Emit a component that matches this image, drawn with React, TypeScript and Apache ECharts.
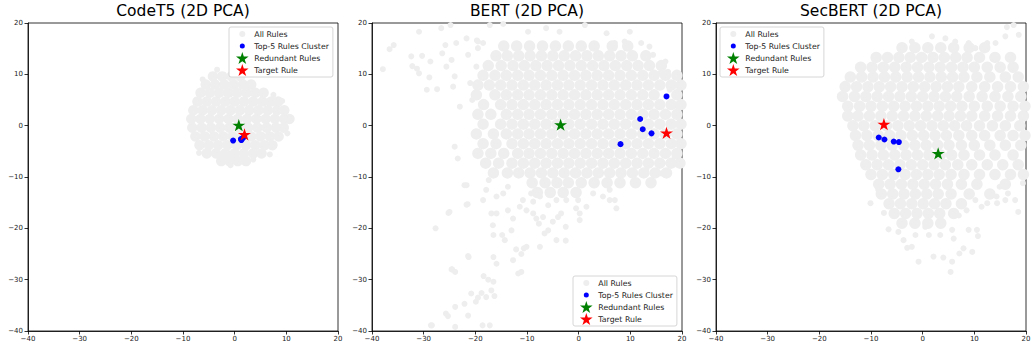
import React, { useEffect, useRef } from "react";
import * as echarts from "echarts";

// ---------- data ----------
const panelTitles = ["CodeT5 (2D PCA)", "BERT (2D PCA)", "SecBERT (2D PCA)"];
const legendNames = ["All Rules", "Top-5 Rules Cluster", "Redundant Rules", "Target Rule"];
const axisTicks = [-40, -30, -20, -10, 0, 10, 20];

// dense part of "All Rules" cloud, as rows: [y, xs]
const codet5Core: [number, number[]][] = [
  [9.6, [-4.2, -2.4, -0.6, 1.1]],
  [8.0, [-5.6, -3.8, -2.0, -0.2, 1.6, 3.2]],
  [6.4, [-6.6, -4.8, -3.0, -1.2, 0.5, 2.3, 4.0, 5.6]],
  [4.7, [-7.2, -5.4, -3.6, -1.8, 0.0, 1.8, 3.6, 5.4, 7.1, 8.4]],
  [3.0, [-8.0, -6.2, -4.4, -2.6, -0.8, 1.0, 2.8, 4.6, 6.4, 8.2, 9.6]],
  [1.3, [-8.4, -6.6, -4.8, -3.0, -1.2, 0.6, 2.4, 4.2, 6.0, 7.8, 9.6, 10.6]],
  [-0.4, [-8.2, -6.4, -4.6, -2.8, -1.0, 0.8, 2.6, 4.4, 6.2, 8.0, 9.5]],
  [-2.1, [-7.6, -5.8, -4.0, -2.2, -0.4, 1.4, 3.2, 5.0, 6.8, 8.5]],
  [-3.8, [-6.8, -5.0, -3.2, -1.4, 0.4, 2.2, 4.0, 5.8, 7.3]],
  [-5.4, [-5.4, -3.6, -1.8, 0.0, 1.8, 3.6, 5.2]],
  [-6.9, [-2.6, -1.0, 0.6, 2.2]],
];
const codet5Sparse: [number, number][] = [
  [-3.4, 10.9], [6.8, -5.6], [10.3, 1.4], [-8.1, 2.4], [-0.8, -7.7], [-6.9, -5.3],
  [-6.2, 9.0], [7.5, 6.0], [9.2, 4.8], [10.2, -1.5], [3.6, -6.6],
];

const bertCore: [number, number[]][] = [
  [15.5, [-14.5, -12.0, -9.5, -7.0, -4.5, -2.0, 0.5, 3.0, 6.5, 9.5]],
  [13.6, [-16.0, -13.8, -11.6, -9.4, -7.2, -5.0, -2.8, -0.6, 1.6, 3.8, 6.0, 8.2, 10.4, 13.0]],
  [11.7, [-17.5, -15.0, -12.7, -10.5, -8.3, -6.1, -3.9, -1.7, 0.5, 2.7, 4.9, 7.1, 9.3, 11.5, 13.7, 16.0]],
  [9.8, [-18.5, -16.2, -14.0, -11.8, -9.6, -7.4, -5.2, -3.0, -0.8, 1.4, 3.6, 5.8, 8.0, 10.2, 12.4, 14.6, 16.8, 19.0]],
  [7.9, [-19.5, -17.3, -15.1, -12.9, -10.7, -8.5, -6.3, -4.1, -1.9, 0.3, 2.5, 4.7, 6.9, 9.1, 11.3, 13.5, 15.7, 17.9, 19.8]],
  [6.0, [-19.8, -16.2, -14.0, -11.8, -9.6, -7.4, -5.2, -3.0, -0.8, 1.4, 3.6, 5.8, 8.0, 10.2, 12.4, 14.6, 19.0]],
  [4.1, [-18.4, -15.1, -12.9, -10.7, -8.5, -6.3, -4.1, -1.9, 0.3, 2.5, 4.7, 6.9, 9.1, 11.3, 13.5, 15.7, 17.9, 19.8]],
  [2.2, [-19.5, -17.0, -14.0, -11.8, -9.6, -7.4, -5.2, -3.0, -0.8, 1.4, 3.6, 5.8, 8.0, 10.2, 12.4, 14.6, 16.8, 19.0]],
  [0.3, [-18.5, -15.1, -12.9, -10.7, -8.5, -6.3, -4.1, -1.9, 0.3, 2.5, 4.7, 6.9, 9.1, 11.3, 13.5, 15.7, 17.9, 19.8]],
  [-1.6, [-19.8, -16.5, -14.0, -11.8, -9.6, -7.4, -5.2, -3.0, -0.8, 1.4, 3.6, 5.8, 8.0, 10.2, 12.4, 14.6, 16.8, 19.0]],
  [-3.5, [-18.5, -16.0, -12.9, -10.7, -8.5, -6.3, -4.1, -1.9, 0.3, 2.5, 4.7, 6.9, 9.1, 11.3, 13.5, 15.7, 17.9, 19.8]],
  [-5.4, [-19.5, -17.0, -14.5, -11.8, -9.6, -7.4, -5.2, -3.0, -0.8, 1.4, 3.6, 5.8, 8.0, 10.2, 12.4, 14.6, 16.8, 19.0]],
  [-7.3, [-18.0, -15.5, -12.9, -10.7, -8.5, -6.3, -4.1, -1.9, 0.3, 2.5, 4.7, 6.9, 9.1, 11.3, 13.5, 15.7, 17.9, 19.6]],
  [-9.2, [-16.5, -13.8, -11.6, -9.4, -7.2, -5.0, -2.8, -0.6, 1.6, 3.8, 6.0, 8.2, 10.4, 12.6, 14.8, 17.0]],
  [-11.1, [-9.0, -6.5, -4.2, -2.0, 0.5, 3.0, 5.5, 8.0, 11.0, 14.0]],
  [-13.0, [-8.0, -5.5, -3.0, -0.5]],
];
const bertSparse: [number, number][] = [
  [-37.9, 11.0], [-36.6, 14.9], [-35.8, 15.7], [-30.9, 18.3], [-32.4, 13.5], [-30.3, 13.6],
  [-32.2, 11.6], [-31.3, 11.1], [-30.9, 10.2], [-28.9, 9.4], [-29.4, 7.0], [-28.7, 12.5],
  [-27.4, 7.1], [-26.6, 19.0], [-25.8, 15.7], [-26.4, 14.1], [-25.6, 11.5], [-24.8, 19.6],
  [-24.6, 12.8], [-23.7, 16.1], [-24.0, 9.6], [-24.3, 7.6], [-21.7, 17.0], [-21.4, 13.8],
  [-21.0, 8.3], [-20.6, 5.0], [-19.7, 16.6], [-19.8, 11.5], [-23.0, 3.7], [-24.0, -4.1],
  [-23.4, -6.4], [-21.7, -11.6], [-21.5, -15.3], [-25.0, -16.8], [-27.7, -20.0], [-25.2, -17.0],
  [-21.7, -15.4], [-21.3, -25.6], [-24.5, -28.0], [-23.9, -28.5], [-25.7, -36.6], [-25.3, -37.1],
  [-23.9, -35.3], [-23.9, -39.2], [-28.6, -38.9], [-20.8, -32.7], [-19.9, -34.3], [-19.5, -33.5],
  [-18.8, -32.6], [-18.4, -29.3], [-17.9, -33.4], [-17.5, -30.0], [-16.9, -32.1], [-16.5, -30.4],
  [-16.3, -33.2], [-18.6, -38.9], [-17.2, -38.9], [-22.1, -34.7], [-21.4, -37.0], [-15.9, -26.9],
  [-16.5, -25.6], [-11.7, -28.8], [-11.1, -28.5], [-12.7, -26.2], [-12.1, -24.1], [-11.1, -25.0],
  [-10.6, -23.9], [-14.3, -22.3], [-14.8, -21.3], [-13.0, -20.4], [-12.7, -18.1], [-16.5, -21.3],
  [-16.6, -19.4], [-15.9, -17.1], [-16.9, -17.1], [-18.5, -14.5], [-22.1, -11.6], [-11.4, -15.8],
  [-10.1, -16.5], [-8.8, -17.1], [-10.8, -14.5], [-8.8, -14.8], [-7.5, -13.8], [-9.2, -13.2],
  [-8.2, -18.1], [-7.7, -19.1], [-6.9, -17.8], [-5.9, -20.4], [-5.0, -18.7], [-4.0, -17.8],
  [-3.4, -17.1], [-4.3, -22.3], [-2.5, -19.7], [-2.5, -22.4], [-7.5, -23.6], [-10.1, -23.6],
  [-6.6, -21.0], [-0.5, -16.1], [0.2, -18.4], [0.2, -17.1], [-0.1, -14.5], [-2.4, -14.5],
  [-4.3, -14.5], [-5.9, -15.5], [1.5, -15.8], [2.8, -13.2], [4.7, -13.8], [6.0, -12.5],
  [7.3, -16.1], [7.0, -14.5], [6.0, -14.5], [-15.9, -13.8], [-14.6, -13.2], [-13.7, -11.9],
  [-17.9, -12.5], [-17.4, -10.6], [-13.7, -16.5], [16.8, 12.5], [17.3, 10.5], [15.7, 10.2],
  [18.3, 8.3], [17.6, 7.0], [19.2, 3.7], [19.5, -3.4], [18.6, -6.0], [17.3, -7.3],
  [16.0, -9.3], [14.7, -9.3], [13.1, -8.6], [9.9, 18.3], [5.4, 18.0], [1.2, 19.6],
  [-3.7, 18.3], [-6.3, 19.0], [-9.8, 18.3], [-14.6, 19.8], [-17.2, 19.6], [-19.5, 16.4],
  [-19.5, 15.1], [-18.5, 16.1], [7.0, 16.1], [8.9, 16.4], [12.1, 16.1], [13.7, 15.4],
  [14.4, 13.8], [-21.4, -25.4], [-24.6, -28.0], [-28.4, -38.9],
];

const secbertCore: [number, number[]][] = [
  [15.2, [-4.0, -1.5, 1.0, 3.5, 6.0, 9.0, 12.0]],
  [13.3, [-9.0, -6.8, -4.6, -2.4, -0.2, 2.0, 4.2, 6.4, 8.6, 11.0, 14.0, 17.0]],
  [11.4, [-12.0, -9.8, -7.6, -5.4, -3.2, -1.0, 1.2, 3.4, 5.6, 7.8, 10.0, 12.5, 15.0, 17.5]],
  [9.5, [-14.0, -11.8, -9.6, -7.4, -5.2, -3.0, -0.8, 1.4, 3.6, 5.8, 8.0, 10.5, 13.0, 16.0, 18.5]],
  [7.6, [-15.0, -12.8, -10.6, -8.4, -6.2, -4.0, -1.8, 0.4, 2.6, 4.8, 7.0, 9.5, 12.0, 14.5, 17.0, 19.5]],
  [5.7, [-15.5, -13.2, -11.0, -8.8, -6.6, -4.4, -2.2, 0.0, 2.2, 4.4, 6.6, 9.0, 11.5, 14.0, 16.5, 19.0]],
  [3.8, [-14.5, -12.2, -10.0, -7.8, -5.6, -3.4, -1.2, 1.0, 3.2, 5.4, 7.6, 10.0, 12.5, 15.0, 17.5, 19.8]],
  [1.9, [-14.5, -12.5, -10.3, -8.1, -5.9, -3.7, -1.5, 0.7, 2.9, 5.1, 7.3, 9.5, 12.0, 14.5, 17.0, 19.5]],
  [0.0, [-13.5, -11.4, -9.2, -7.0, -4.8, -2.6, -0.4, 1.8, 4.0, 6.2, 8.5, 11.0, 13.5, 16.0, 18.8]],
  [-1.9, [-13.0, -10.8, -8.6, -6.4, -4.2, -2.0, 0.2, 2.4, 4.6, 7.0, 9.5, 12.0, 15.0, 17.5, 19.8]],
  [-3.8, [-12.5, -10.3, -8.1, -5.9, -3.7, -1.5, 0.7, 2.9, 5.1, 7.5, 10.0, 13.0, 16.0, 19.0]],
  [-5.7, [-12.0, -9.8, -7.6, -5.4, -3.2, -1.0, 1.2, 3.4, 5.6, 8.0, 11.0, 14.0, 17.5]],
  [-7.6, [-11.0, -8.8, -6.6, -4.4, -2.2, 0.0, 2.2, 4.4, 6.8, 9.5, 12.5, 15.5, 18.5]],
  [-9.5, [-10.0, -7.8, -5.6, -3.4, -1.2, 1.0, 3.2, 5.5, 8.0, 11.0, 14.0, 17.0, 19.5]],
  [-11.4, [-8.5, -6.3, -4.1, -1.9, 0.3, 2.5, 4.8, 7.5, 10.5, 16.0]],
  [-13.3, [-8.0, -5.8, -3.6, -1.4, 0.8, 3.0, 5.5, 9.0, 13.0]],
  [-15.2, [-6.5, -4.3, -2.1, 0.1, 2.3, 4.5, 7.5]],
  [-17.1, [-5.5, -3.3, -1.1, 1.1, 3.3, 6.0]],
  [-19.0, [-4.0, -1.5, 1.0, 3.5]],
];
const secbertSparse: [number, number][] = [
  [16.3, 19.2], [17.6, 19.6], [16.0, 17.4], [18.6, 17.7], [-2.1, 16.4], [1.8, 17.4],
  [4.4, 17.0], [6.3, 16.4], [8.9, 16.1], [12.5, 16.1], [14.1, 16.1], [10.2, 15.1],
  [-16.0, 5.7], [-15.0, 8.2], [-12.7, -4.1], [-11.8, -6.0], [-10.1, -15.1], [-6.6, -20.2],
  [-3.0, -23.8], [-0.8, -26.5], [2.1, -25.5], [4.0, -25.7], [5.4, -28.5], [5.7, -26.5],
  [7.1, -24.9], [9.6, -24.6], [7.9, -23.9], [1.2, -21.3], [3.4, -21.3], [6.0, -22.0],
  [5.7, -20.3], [8.9, -20.3], [10.7, -21.5], [10.5, -20.3], [-2.1, -23.6], [-3.7, -22.3],
  [-4.7, -20.7], [0.5, -19.7], [-1.4, -21.3], [12.5, -15.1], [14.4, -15.1], [16.0, -14.5],
  [17.9, -14.5], [18.5, -16.8], [16.5, -13.2], [19.3, -9.3], [19.4, -11.2], [14.9, -11.9],
  [11.4, -15.8], [10.2, -14.5], [14.3, -13.8], [7.0, -17.5], [8.5, -16.5], [-7.5, -17.0],
  [-8.6, -12.5],
];

const codet5Top5: [number, number][] = [[-0.3, -2.9], [1.3, -2.8], [1.5, -2.5], [1.8, -2.2], [1.2, -2.6]];
const codet5Redundant: [number, number][] = [[0.8, 0.1]];
const codet5Target: [number, number][] = [[1.9, -1.7]];

const bertTop5: [number, number][] = [[17.0, 5.7], [11.9, 1.3], [12.4, -0.7], [14.1, -1.5], [8.1, -3.6]];
const bertRedundant: [number, number][] = [[-3.5, 0.2]];
const bertTarget: [number, number][] = [[17.0, -1.4]];

const secbertTop5: [number, number][] = [[-8.5, -2.3], [-7.4, -2.7], [-5.6, -3.1], [-4.6, -3.2], [-4.7, -8.5]];
const secbertRedundant: [number, number][] = [[3.0, -5.4]];
const secbertTarget: [number, number][] = [[-7.5, 0.3]];

// ---------- styling ----------
const STAR =
  "path://M0,-100L22.4,-30.8L95.1,-30.9L36.2,11.8L58.8,80.9L0,38.1L-58.8,80.9L-36.2,11.8L-95.1,-30.9L-22.4,-30.8Z";
const ICON_GRAY = "path://M0,0M12,12M3,6A3,3,0,1,1,9,6A3,3,0,1,1,3,6Z";
const ICON_BLUE = "path://M0,0M12,12M3.5,6A2.5,2.5,0,1,1,8.5,6A2.5,2.5,0,1,1,3.5,6Z";
const FONT = "DejaVu Sans";

const gridLefts = [28, 372, 716];
const legendPos = [
  { left: 229, top: 27 },
  { left: 573, top: 276 },
  { left: 720, top: 27 },
];

const panels = [
  { core: codet5Core, sparse: codet5Sparse, top5: codet5Top5, red: codet5Redundant, tgt: codet5Target, coreSize: 10.5 },
  { core: bertCore, sparse: bertSparse, top5: bertTop5, red: bertRedundant, tgt: bertTarget, coreSize: 11.5 },
  { core: secbertCore, sparse: secbertSparse, top5: secbertTop5, red: secbertRedundant, tgt: secbertTarget, coreSize: 11.5 },
];

const fmt = (v: number) => String(v).replace("-", "\u2212");

function buildOption() {
  const grid: any[] = [];
  const xAxis: any[] = [];
  const yAxis: any[] = [];
  const title: any[] = [];
  const legend: any[] = [];
  const series: any[] = [];

  panels.forEach((p, i) => {
    grid.push({
      left: gridLefts[i], top: 23, width: 310, height: 308,
      show: true, borderColor: "#000", borderWidth: 0.8, backgroundColor: "transparent",
    });
    const axisCommon = {
      type: "value", gridIndex: i, min: axisTicks[0], max: axisTicks[axisTicks.length - 1], interval: 10,
      axisLine: { show: true, onZero: false, lineStyle: { color: "#000", width: 0.8 } },
      axisTick: { show: true, length: 3.5, lineStyle: { color: "#000", width: 0.8 } },
      splitLine: { show: false },
    };
    xAxis.push({ ...axisCommon, axisLabel: { fontSize: 7, color: "#222", fontFamily: FONT, margin: 4, formatter: fmt } });
    yAxis.push({ ...axisCommon, axisLabel: { fontSize: 7, color: "#222", fontFamily: FONT, margin: 5, formatter: fmt } });
    title.push({
      text: panelTitles[i], left: gridLefts[i] + 155, top: 3, textAlign: "center", padding: 0,
      textStyle: { fontFamily: FONT, fontSize: 15.5, fontWeight: "normal", color: "#000" },
    });
    legend.push({
      orient: "vertical", left: legendPos[i].left, top: legendPos[i].top,
      padding: [1, 4, 1, 7], itemGap: 0, itemWidth: 14, itemHeight: 12,
      backgroundColor: "#fff", borderColor: "#d6d6d6", borderWidth: 1, borderRadius: 2,
      selectedMode: false,
      textStyle: { fontFamily: FONT, fontSize: 7.8, color: "#222" },
      data: [
        { name: legendNames[0], icon: ICON_GRAY },
        { name: legendNames[1], icon: ICON_BLUE },
        { name: legendNames[2], icon: STAR },
        { name: legendNames[3], icon: STAR },
      ],
    });

    const cloud: any[] = [];
    p.core.forEach(([y, xs]) => xs.forEach((x) => cloud.push({ value: [x, y], symbolSize: p.coreSize })));
    p.sparse.forEach(([x, y]) => cloud.push({ value: [x, y], symbolSize: 6 }));

    series.push({
      name: legendNames[0], type: "scatter", xAxisIndex: i, yAxisIndex: i, silent: true,
      symbol: "circle", data: cloud, itemStyle: { color: "#eeeeee", opacity: 1 }, z: 2,
    });
    series.push({
      name: legendNames[1], type: "scatter", xAxisIndex: i, yAxisIndex: i, silent: true,
      symbol: "circle", symbolSize: 6, data: p.top5, itemStyle: { color: "#0000ff", opacity: 1 }, z: 3,
    });
    series.push({
      name: legendNames[2], type: "scatter", xAxisIndex: i, yAxisIndex: i, silent: true,
      symbol: STAR, symbolKeepAspect: true, symbolSize: 13, data: p.red, itemStyle: { color: "#008000", opacity: 1 }, z: 4,
    });
    series.push({
      name: legendNames[3], type: "scatter", xAxisIndex: i, yAxisIndex: i, silent: true,
      symbol: STAR, symbolKeepAspect: true, symbolSize: 13, data: p.tgt, itemStyle: { color: "#ff0000", opacity: 1 }, z: 5,
    });
  });

  return { animation: false, backgroundColor: "#fff", grid, xAxis, yAxis, title, legend, series };
}

export default function App() {
  const ref = useRef<HTMLDivElement>(null);
  useEffect(() => {
    if (!ref.current) return;
    const chart = echarts.init(ref.current, null, { renderer: "svg" });
    chart.setOption(buildOption());
    return () => chart.dispose();
  }, []);
  return (
    <div
      ref={ref}
      style={{ position: "absolute", left: 0, top: 0, width: 1036, height: 350, background: "#fff" }}
    />
  );
}
